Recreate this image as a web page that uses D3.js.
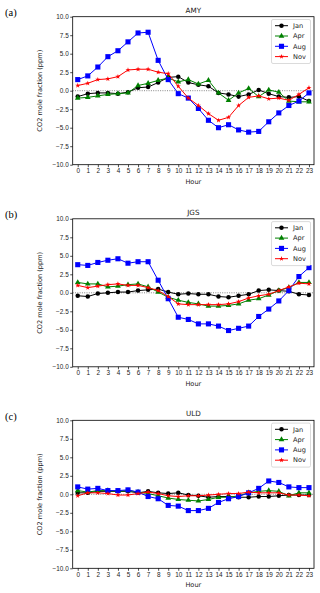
<!DOCTYPE html>
<html>
<head>
<meta charset="utf-8">
<script src="https://cdn.jsdelivr.net/npm/d3@7"></script>
<style>
  body { margin: 0; background: #fff; }
  svg { display: block; }
</style>
</head>
<body>
<div id="chart"></div>
<script>
// hours on x axis
const hours = d3.range(0, 24);
const months = ["Jan", "Apr", "Aug", "Nov"];
const yTicks = [-10, -7.5, -5, -2.5, 0, 2.5, 5, 7.5, 10];

// AMY
const amyJan = [-0.8,-0.4,-0.3,-0.3,-0.4,-0.2,0.4,0.5,1.1,1.8,1.9,1.1,0.8,0.6,-0.3,-0.5,-0.8,-0.5,0.1,-0.4,-0.8,-0.9,-0.8,-1.4];
const amyApr = [-1.0,-0.9,-0.7,-0.5,-0.4,-0.3,0.7,1.0,1.4,1.7,1.2,1.5,0.9,1.4,-0.3,-1.3,-0.3,0.3,-0.8,0.1,-0.2,-1.4,-1.5,-1.5];
const amyAug = [1.5,2.0,3.2,4.6,5.4,6.6,7.8,7.9,4.1,1.5,-0.4,-1.0,-2.4,-4.0,-5.0,-4.6,-5.3,-5.6,-5.5,-4.2,-3.0,-2.0,-1.4,-0.3];
const amyNov = [0.7,1.0,1.5,1.6,1.9,2.8,2.9,2.9,2.5,2.3,0.6,-1.0,-2.0,-3.1,-4.0,-3.6,-2.0,-0.9,-0.7,-1.1,-1.0,-1.3,-0.5,0.4];

// JGS
const jgsJan = [-0.4,-0.5,-0.1,0.0,0.1,0.1,0.3,0.4,0.5,0.1,-0.2,-0.1,-0.2,-0.2,-0.5,-0.6,-0.4,-0.2,0.3,0.4,0.3,0.2,-0.2,-0.3];
const jgsApr = [1.4,1.2,1.2,0.8,0.9,1.1,1.2,0.8,0.1,-0.6,-1.0,-1.3,-1.5,-1.8,-1.8,-1.7,-1.5,-1.0,-0.8,-0.3,0.3,0.7,1.4,1.4];
const jgsAug = [3.8,3.7,4.1,4.4,4.6,4.0,4.2,4.2,1.7,-0.8,-3.3,-3.6,-4.2,-4.2,-4.5,-5.1,-4.8,-4.5,-3.2,-2.2,-1.1,0.3,2.2,3.4];
const jgsNov = [1.0,0.7,0.9,1.1,1.2,1.0,1.0,0.7,0.3,-0.5,-1.5,-1.6,-1.6,-1.6,-1.6,-1.5,-1.2,-0.7,-0.4,-0.2,0.3,0.8,1.3,1.2];

// ULD
const uldJan = [0.2,0.2,0.4,0.4,0.4,0.4,0.2,0.4,0.2,0.1,0.2,-0.1,-0.2,-0.4,-0.3,-0.3,-0.4,-0.4,-0.3,-0.3,-0.2,-0.1,-0.1,-0.1];
const uldApr = [0.5,0.3,0.5,0.5,0.4,0.5,0.3,0.1,-0.2,-0.5,-0.7,-0.8,-0.9,-0.7,-0.4,-0.4,-0.2,0.2,0.4,0.5,0.4,-0.2,0.2,0.2];
const uldAug = [1.0,0.7,0.8,0.5,0.5,0.6,0.3,-0.3,-0.6,-1.5,-1.6,-2.2,-2.2,-1.9,-1.1,-0.6,-0.3,0.2,0.8,1.8,1.6,1.0,0.9,0.9];
const uldNov = [-0.2,0.2,0.2,0.1,-0.1,-0.1,0.1,0.3,0.1,-0.2,-0.3,-0.2,-0.2,-0.1,0.0,0.1,0.1,0.3,0.2,0.2,0.2,-0.1,-0.1,-0.2];

const panels = [
  {tag: "(a)", name: "AMY", series: [amyJan, amyApr, amyAug, amyNov], top: 16.7},
  {tag: "(b)", name: "JGS", series: [jgsJan, jgsApr, jgsAug, jgsNov], top: 218.8},
  {tag: "(c)", name: "ULD", series: [uldJan, uldApr, uldAug, uldNov], top: 420.3}
];

const colors = ["#000000", "#008000", "#0000ff", "#ff0000"];
const symbols = [d3.symbolCircle, d3.symbolTriangle, d3.symbolSquare, d3.symbolStar];
const symSize = [16, 14, 26, 8];

const W = 320, H = 593;
const left = 72.7, right = 314, plotH = 148;

const svg = d3.select("#chart").append("svg")
  .attr("width", W)
  .attr("height", H)
  .style("font-family", "'DejaVu Sans', sans-serif");

panels.forEach(function(p) {
  const g = svg.append("g").attr("transform", "translate(0," + p.top + ")");

  let x = d3.scaleLinear().domain([-0.5, 23.5]).range([left, right]);
  let y = d3.scaleLinear().domain([-10, 10]).range([plotH, 0]);

  // panel letter
  svg.append("text")
    .attr("x", 5)
    .attr("y", p.top - 0.5)
    .style("font-family", "'Liberation Serif', serif")
    .style("font-size", "10.5px")
    .style("font-weight", "normal")
    .text(p.tag);

  // title
  g.append("text")
    .attr("x", (left + right) / 2)
    .attr("y", -4)
    .attr("text-anchor", "middle")
    .style("font-size", "7.2px")
    .attr("fill", "#222")
    .text(p.name);

  // x axis
  const xAxis = g.append("g")
    .attr("transform", "translate(0," + plotH + ")")
    .call(d3.axisBottom(x).tickValues(hours).tickSize(2.5).tickPadding(1.5).tickFormat(d3.format("d")));
  xAxis.select(".domain").remove();
  xAxis.selectAll("text").style("font-size", "6.4px").attr("fill", "#222");
  xAxis.selectAll("line").attr("stroke-width", 0.7);

  // y axis
  const yAxis = g.append("g")
    .attr("transform", "translate(" + left + ",0)")
    .call(d3.axisLeft(y).tickValues(yTicks).tickSize(2.5).tickPadding(1.5)
      .tickFormat(d => d3.format(".1f")(d).replace("-", "\u2212")));
  yAxis.select(".domain").remove();
  yAxis.selectAll("text").style("font-size", "6.4px").attr("fill", "#222");
  yAxis.selectAll("line").attr("stroke-width", 0.7);

  // axis labels
  g.append("text")
    .attr("x", (left + right) / 2)
    .attr("y", plotH + 19)
    .attr("text-anchor", "middle")
    .style("font-size", "6.6px")
    .attr("fill", "#222")
    .text("Hour");

  g.append("text")
    .attr("transform", "translate(42," + (plotH / 2) + ") rotate(-90)")
    .attr("text-anchor", "middle")
    .style("font-size", "6.6px")
    .attr("fill", "#222")
    .text("CO2 mole fraction (ppm)");

  // zero line
  g.append("line")
    .attr("x1", left).attr("x2", right)
    .attr("y1", y(0)).attr("y2", y(0))
    .attr("stroke", "#555")
    .attr("stroke-width", 0.7)
    .attr("stroke-dasharray", "1,1.3");

  // series lines and markers
  let line = d3.line()
    .x((d, i) => x(hours[i]))
    .y(d => y(d));

  p.series.forEach(function(vals, k) {
    g.append("path")
      .datum(vals)
      .attr("fill", "none")
      .attr("stroke", colors[k])
      .attr("stroke-width", 1)
      .attr("d", line);

    g.selectAll(null)
      .data(vals)
      .enter()
      .append("path")
      .attr("transform", (d, i) => "translate(" + x(hours[i]) + "," + y(d) + ")")
      .attr("d", d3.symbol().type(symbols[k]).size(symSize[k]))
      .attr("fill", colors[k]);
  });

  // frame
  g.append("rect")
    .attr("x", left).attr("y", 0)
    .attr("width", right - left).attr("height", plotH)
    .attr("fill", "none")
    .attr("stroke", "#000")
    .attr("stroke-width", 0.8);

  // legend
  const lg = g.append("g").attr("transform", "translate(271.5,2.8)");
  lg.append("rect")
    .attr("width", 39).attr("height", 44)
    .attr("rx", 1.5)
    .attr("fill", "#fff")
    .attr("stroke", "#ccc")
    .attr("stroke-width", 0.7);
  months.forEach(function(m, k) {
    const yy = 6.2 + k * 10.3;
    lg.append("line")
      .attr("x1", 3.5).attr("x2", 16.5)
      .attr("y1", yy).attr("y2", yy)
      .attr("stroke", colors[k]).attr("stroke-width", 1);
    lg.append("path")
      .attr("transform", "translate(10," + yy + ")")
      .attr("d", d3.symbol().type(symbols[k]).size(symSize[k]))
      .attr("fill", colors[k]);
    lg.append("text")
      .attr("x", 21.5).attr("y", yy + 2.3)
      .style("font-size", "6.6px")
      .attr("fill", "#222")
      .text(m);
  });
});
</script>
</body>
</html>
